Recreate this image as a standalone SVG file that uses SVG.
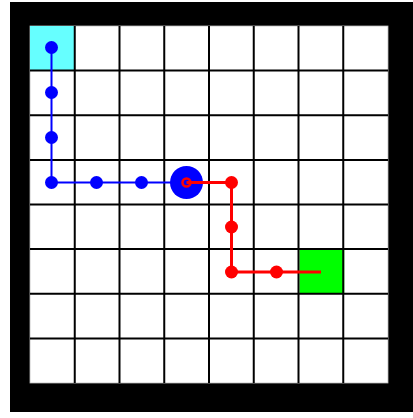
<svg xmlns="http://www.w3.org/2000/svg" width="413" height="418" viewBox="0 0 413 418">
<style>
.grid{stroke:#000;stroke-width:2;fill:none}
.bp{stroke:#0000ff;stroke-width:2;fill:none}
.rp{stroke:#ff0000;stroke-width:3;fill:none}
.bd{fill:#0000ff}
.rd{fill:#ff0000}
</style>
<rect x="0" y="0" width="413" height="418" fill="#fff"/>
<rect x="10" y="2" width="403" height="410" fill="#000"/>
<rect x="30" y="26" width="358" height="357" fill="#fff" stroke="#bbb" stroke-width="0.8"/>
<g id="start"><rect x="30" y="26" width="44.75" height="44.6" fill="#66ffff"/></g>
<g id="goal"><rect x="299.5" y="249.1" width="44.75" height="44.6" fill="#00ff00"/></g>
<g id="grid" class="grid">
<path d="M74.75 26V383M119.5 26V383M164.25 26V383M209 26V383M253.75 26V383M298.5 26V383M343.25 26V383"/>
<path d="M30 70.6H388M30 115.25H388M30 159.9H388M30 204.5H388M30 249.1H388M30 293.75H388M30 338.4H388"/>
</g>
<g id="connectors">
<path class="bp" d="M51.5 47.5V182.5H186.5"/>
</g>
<g id="blue-nodes">
<circle class="bd" cx="51.5" cy="47.5" r="6.5"/>
<circle class="bd" cx="51.5" cy="92.5" r="6.5"/>
<circle class="bd" cx="51.5" cy="137.5" r="6.5"/>
<circle class="bd" cx="51.5" cy="182.5" r="6.5"/>
<circle class="bd" cx="96.5" cy="182.5" r="6.5"/>
<circle class="bd" cx="141.5" cy="182.5" r="6.5"/>
<circle class="bd" cx="186.5" cy="182.5" r="16.5"/>
</g>
<g id="red-connectors">
<path class="rp" d="M186.5 182.5H231.5V272H321"/>
</g>
<g id="red-nodes">
<circle cx="186.5" cy="182.5" r="4" fill="none" stroke="#ff0000" stroke-width="2.5"/>
<circle class="rd" cx="231.5" cy="182.5" r="6.5"/>
<circle class="rd" cx="231.5" cy="227" r="6.5"/>
<circle class="rd" cx="231.5" cy="272" r="6.5"/>
<circle class="rd" cx="276.5" cy="272" r="6.5"/>
</g>
</svg>
